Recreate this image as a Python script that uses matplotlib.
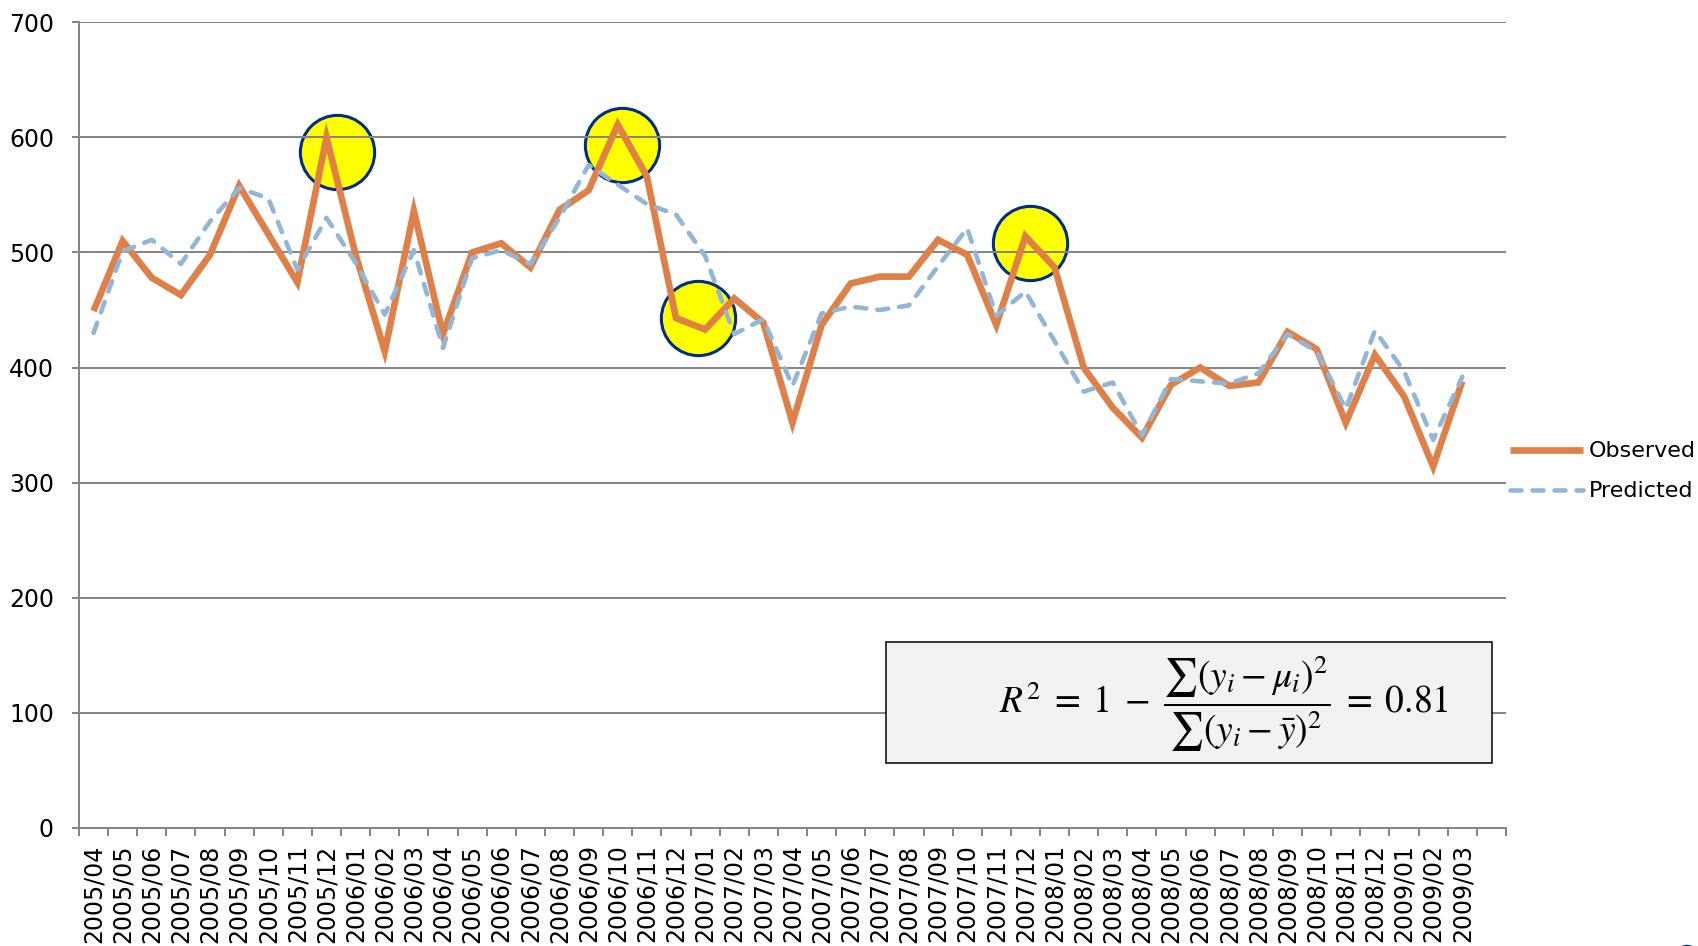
import numpy as np
import matplotlib
matplotlib.use('Agg')
import matplotlib.pyplot as plt
from matplotlib.patches import Rectangle, Circle

# monthly labels 2005/04 .. 2009/03 (one empty slot after the last month)
months = ['2005/04', '2005/05', '2005/06', '2005/07', '2005/08', '2005/09', '2005/10', '2005/11',
          '2005/12', '2006/01', '2006/02', '2006/03', '2006/04', '2006/05', '2006/06', '2006/07',
          '2006/08', '2006/09', '2006/10', '2006/11', '2006/12', '2007/01', '2007/02', '2007/03',
          '2007/04', '2007/05', '2007/06', '2007/07', '2007/08', '2007/09', '2007/10', '2007/11',
          '2007/12', '2008/01', '2008/02', '2008/03', '2008/04', '2008/05', '2008/06', '2008/07',
          '2008/08', '2008/09', '2008/10', '2008/11', '2008/12', '2009/01', '2009/02', '2009/03']

observed = [449, 510, 478, 463, 498, 558, 516, 474, 600, 498, 414, 536, 429, 500, 508, 487,
            537, 554, 611, 566, 443, 433, 460, 439, 352, 437, 473, 479, 479, 511, 498, 437,
            514, 487, 400, 365, 339, 385, 400, 384, 387, 431, 416, 352, 411, 375, 314, 388]

predicted = [430, 501, 511, 490, 527, 556, 547, 485, 530, 491, 446, 502, 417, 495, 502, 490,
             530, 576, 559, 542, 533, 497, 429, 442, 384, 447, 453, 450, 454, 488, 521, 445,
             466, 423, 379, 387, 341, 390, 388, 386, 395, 429, 414, 364, 432, 397, 337, 392]

# highlighted months (yellow circles), in category / value units
circle_x = [8.36, 18.16, 20.76, 32.17]
circle_y = [587, 593, 443, 508]

y_ticks = [0, 100, 200, 300, 400, 500, 600, 700]
r2_text = (r'$R^2 \;=\; 1 \;-\; \dfrac{\sum(y_i - \mu_i)^2}{\sum(y_i - \bar{y})^2}'
           r' \;=\; 0.81$')

plt.rcParams['font.family'] = ['DejaVu Sans']
plt.rcParams['mathtext.fontset'] = 'stix'

fig = plt.figure(figsize=(16.98, 9.46), dpi=100)
ax = fig.add_axes([0.0465, 0.125, 0.8404, 0.8514])

grid_c = '#868686'
x = np.arange(len(months))

# the circles sit under the gridlines and the lines
ax.scatter(circle_x, circle_y, s=2860, c='#FFFF00', edgecolors='#002D8C', linewidths=2.2, zorder=1)

ax.plot(x, observed, color='#DE8048', lw=4.8, solid_joinstyle='miter', solid_capstyle='butt',
        label='Observed', zorder=2)
ax.plot(x, predicted, color='#93B6D6', lw=3.3, linestyle=(0, (2.4, 2.4)),
        dash_capstyle='round', label='Predicted', zorder=2.1)

ax.set_xlim(-0.5, len(months) + 0.5)
ax.set_ylim(0, 700)
ax.set_yticks(y_ticks)
ax.yaxis.grid(True, color=grid_c, lw=1.45)
for line in ax.get_ygridlines():
    line.set_zorder(1.5)

ax.set_xticks(x)
ax.set_xticklabels(months, rotation=90, fontsize=17, va='top')
ax.set_xticks(np.arange(-0.5, len(months) + 1.0, 1.0), minor=True)
ax.tick_params(axis='x', which='major', length=0, pad=12)
ax.tick_params(axis='x', which='minor', length=6, width=1.45, color=grid_c, direction='out')
ax.tick_params(axis='y', length=5, width=1.45, color=grid_c, pad=13, labelsize=17)

for s in ['top', 'right']:
    ax.spines[s].set_visible(False)
for s in ['left', 'bottom']:
    ax.spines[s].set_color(grid_c)
    ax.spines[s].set_linewidth(1.45)

ax.legend(loc='center left', bbox_to_anchor=(0.889, 0.5016), bbox_transform=fig.transFigure,
          frameon=False, fontsize=16, handlelength=3.3, handletextpad=0.25,
          borderpad=0, borderaxespad=0, labelspacing=0.9)

# formula box
ax.add_patch(Rectangle((0.5218, 0.1934), 0.3569, 0.128, transform=fig.transFigure,
                       facecolor='#F2F2F2', edgecolor='black', lw=1.1, zorder=5, clip_on=False))
ax.text(0.7206, 0.2558, r2_text, transform=fig.transFigure, fontsize=27,
        ha='center', va='center', zorder=6)

# small navy mark at the bottom right corner
fig.patches.append(Circle((1687 / 1698, 1 - 949 / 946), 7.5 / 1698, transform=fig.transFigure,
                          facecolor='#002D8C', edgecolor='none'))

fig.savefig('out.png', dpi=100)
